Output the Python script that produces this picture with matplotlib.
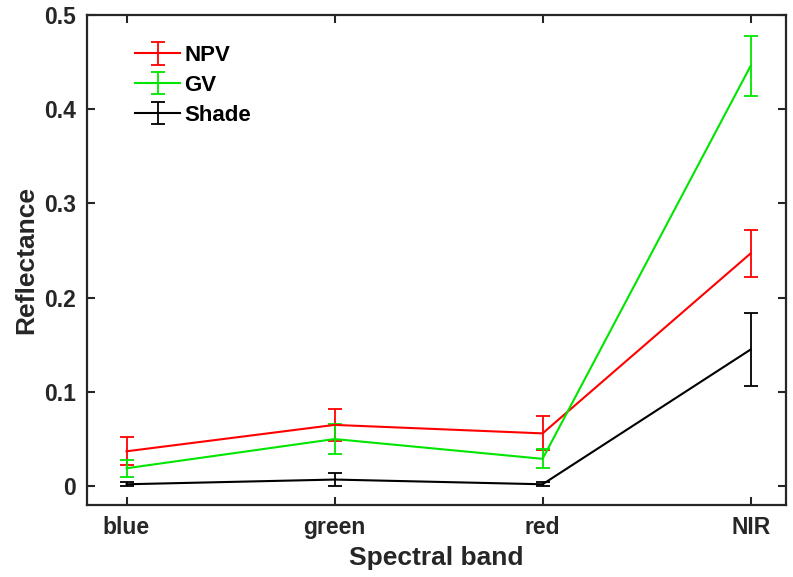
import numpy as np
import matplotlib.pyplot as plt

# Mean reflectance and standard deviation per endmember
bands = ["blue", "green", "red", "NIR"]
npv_mean = [0.037, 0.065, 0.056, 0.247]
npv_std = [0.015, 0.017, 0.018, 0.025]
gv_mean = [0.019, 0.050, 0.029, 0.446]
gv_std = [0.009, 0.016, 0.010, 0.032]
shade_mean = [0.002, 0.007, 0.002, 0.145]
shade_std = [0.002, 0.007, 0.002, 0.039]

plt.rcParams["font.family"] = ["Liberation Sans", "DejaVu Sans"]
plt.rcParams["font.weight"] = "bold"
dark = "#262626"

fig = plt.figure(figsize=(7.93, 5.77), dpi=100)
ax = fig.add_axes([87 / 793, 1 - 505 / 577, 699 / 793, 490 / 577])

x = np.arange(1, len(bands) + 1)
for mean, std, color, label in [
    (npv_mean, npv_std, "#ff0000", "NPV"),
    (gv_mean, gv_std, "#00e600", "GV"),
    (shade_mean, shade_std, "#000000", "Shade"),
]:
    ax.errorbar(x, mean, yerr=std, color=color, linewidth=1.5,
                elinewidth=1.3, capsize=5, capthick=1.3, label=label)

ax.set_xlim(0.81, 4.17)
ax.set_ylim(-0.02, 0.5)
ax.set_xticks(x)
ax.set_xticklabels(bands)
ax.set_yticks([0, 0.1, 0.2, 0.3, 0.4, 0.5])
ax.set_yticklabels(["0", "0.1", "0.2", "0.3", "0.4", "0.5"])

ax.tick_params(direction="in", length=6, width=1.5, top=True, right=True,
               labelsize=16.5, colors=dark, pad=8)
for s in ax.spines.values():
    s.set_linewidth(1.6)
    s.set_color(dark)

ax.set_xlabel("Spectral band", fontsize=19, fontweight="bold", color=dark, labelpad=5)
ax.set_ylabel("Reflectance", fontsize=19, fontweight="bold", color=dark, labelpad=4)

leg = ax.legend(loc="upper left", frameon=False, fontsize=16,
                bbox_to_anchor=(0.047, 0.97), handlelength=2.0,
                handletextpad=0.2, labelspacing=0.4, borderaxespad=0.3)
for t in leg.get_texts():
    t.set_fontweight("bold")

fig.savefig("out.png", dpi=100)
